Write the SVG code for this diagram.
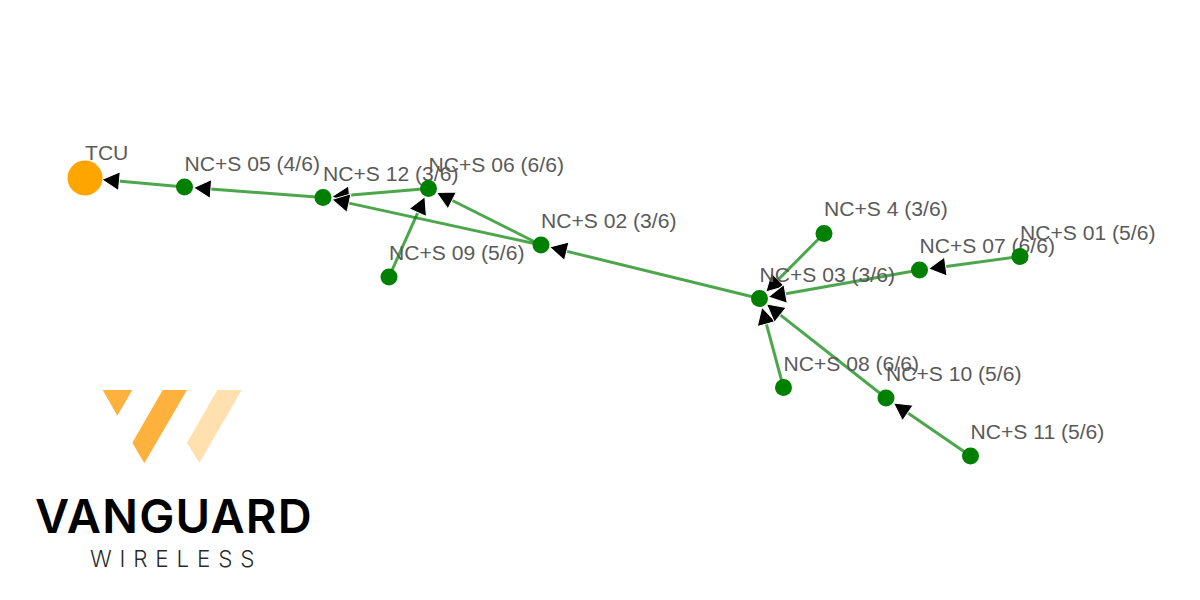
<svg xmlns="http://www.w3.org/2000/svg" width="1200" height="600" viewBox="0 0 1200 600">
<style>
.edge{fill:none;stroke:#008000;stroke-opacity:.7;stroke-width:3;marker-end:url(#arrow)}
.node{fill:#008000}
.root{fill:#ffa500}
.label{font-family:"Liberation Sans",Arial,sans-serif;font-size:21.100px;fill:#5a5a5a}
.brand{font-family:Inter,Roboto,"Liberation Sans",sans-serif;fill:#000}
</style>
<defs>
<marker id="arrow" markerUnits="userSpaceOnUse" viewBox="-10 -12 24 24" refX="0" refY="0" markerWidth="24" markerHeight="24" orient="auto"><polygon points="10.500,0 -7,-9.500 -7,9.500" fill="#000" stroke="#fff" stroke-width="1"/></marker>
</defs>
<rect width="1200" height="600" fill="#fff"/>
<g id="connectors">
<line class="edge" x1="184.500" y1="187" x2="112.400" y2="180.500"/>
<line class="edge" x1="323" y1="197.500" x2="203.900" y2="188.500"/>
<line class="edge" x1="428.500" y1="188.500" x2="342.400" y2="195.800"/>
<line class="edge" x1="541" y1="245" x2="342.100" y2="201.650"/>
<line class="edge" x1="389" y1="277" x2="420.600" y2="206.300"/>
<line class="edge" x1="541" y1="245" x2="445.900" y2="197.250"/>
<line class="edge" x1="759.500" y1="298.500" x2="559.900" y2="249.600"/>
<line class="edge" x1="824" y1="233.500" x2="773.200" y2="284.650"/>
<line class="edge" x1="919.500" y1="270" x2="778.700" y2="295.100"/>
<line class="edge" x1="1020" y1="256.500" x2="938.800" y2="267.400"/>
<line class="edge" x1="783.500" y1="387.500" x2="764.600" y2="317.300"/>
<line class="edge" x1="886" y1="398" x2="774.800" y2="310.600"/>
<line class="edge" x1="970.500" y1="456" x2="902.100" y2="409"/>
</g>
<g id="nodes">
<g id="n-tcu"><circle class="root" cx="85" cy="178" r="17.500"/><text class="label" x="85" y="160">TCU</text></g>
<g id="n-05"><circle class="node" cx="184.500" cy="187" r="8.500"/><text class="label" x="184.500" y="171">NC+S 05 (4/6)</text></g>
<g id="n-12"><circle class="node" cx="323" cy="197.500" r="8.500"/><text class="label" x="323" y="181">NC+S 12 (3/6)</text></g>
<g id="n-06"><circle class="node" cx="428.500" cy="188.500" r="8.500"/><text class="label" x="428.500" y="172">NC+S 06 (6/6)</text></g>
<g id="n-09"><circle class="node" cx="389" cy="277" r="8.500"/><text class="label" x="389" y="260">NC+S 09 (5/6)</text></g>
<g id="n-02"><circle class="node" cx="541" cy="245" r="8.500"/><text class="label" x="541" y="228">NC+S 02 (3/6)</text></g>
<g id="n-03"><circle class="node" cx="759.500" cy="298.500" r="8.500"/><text class="label" x="759.500" y="282">NC+S 03 (3/6)</text></g>
<g id="n-4"><circle class="node" cx="824" cy="233.500" r="8.500"/><text class="label" x="824" y="216">NC+S 4 (3/6)</text></g>
<g id="n-07"><circle class="node" cx="919.500" cy="270" r="8.500"/><text class="label" x="919.500" y="253">NC+S 07 (6/6)</text></g>
<g id="n-01"><circle class="node" cx="1020" cy="256.500" r="8.500"/><text class="label" x="1020" y="240">NC+S 01 (5/6)</text></g>
<g id="n-08"><circle class="node" cx="783.500" cy="387.500" r="8.500"/><text class="label" x="783.500" y="371">NC+S 08 (6/6)</text></g>
<g id="n-10"><circle class="node" cx="886" cy="398" r="8.500"/><text class="label" x="886" y="381">NC+S 10 (5/6)</text></g>
<g id="n-11"><circle class="node" cx="970.500" cy="456" r="8.500"/><text class="label" x="970.500" y="439">NC+S 11 (5/6)</text></g>
</g>
<g id="logo">
<polygon points="102.700,390 132.300,390 117.300,415.700" fill="#ffb13d"/>
<polygon points="162.700,390 187,390 144.300,463.300 132.300,442.700" fill="#ffb13d"/>
<polygon points="217.300,390 241.700,390 199.300,463 187,442.700" fill="#ffe0ae"/>
<text class="brand" x="35" y="533" font-size="47" font-weight="600" letter-spacing="1.200">VANGUARD</text>
<text class="brand" x="90" y="567" font-size="22.500" font-weight="300" letter-spacing="7.800" fill-opacity=".85">WIRELESS</text>
</g>
</svg>
